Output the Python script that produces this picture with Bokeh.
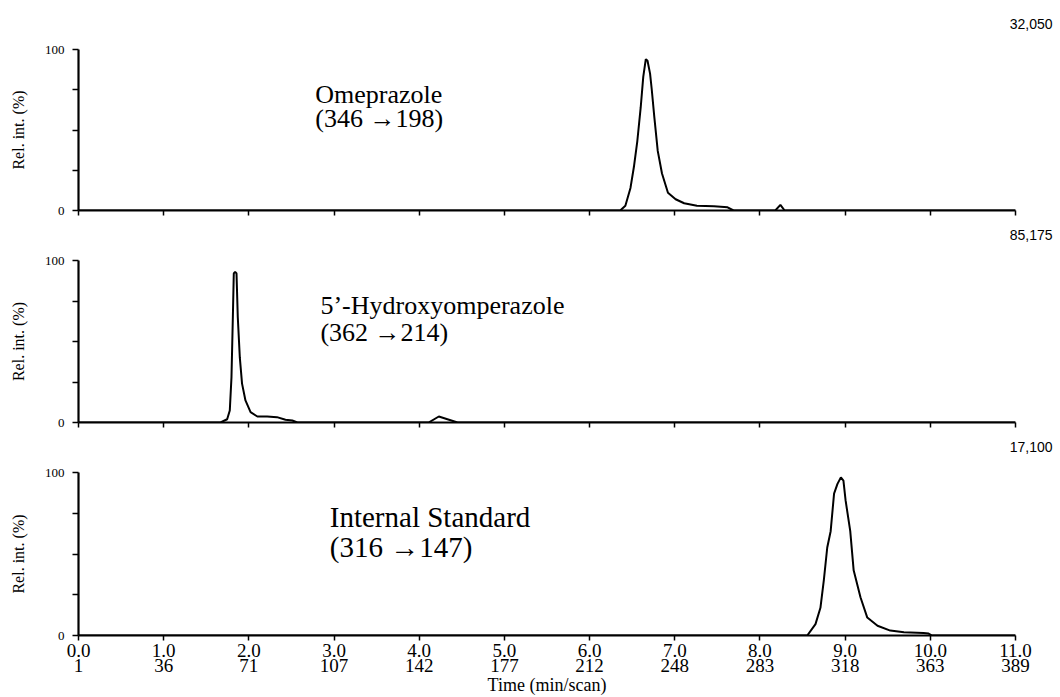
from bokeh.plotting import figure
from bokeh.layouts import column
from bokeh.models import Label, LinearAxis, FixedTicker, Range1d
from bokeh.embed import file_html
from bokeh.resources import INLINE

# ---- data (time in min, relative intensity in %) ----
omep_t = [0, 6.36, 6.42, 6.48, 6.52, 6.56, 6.60, 6.63, 6.66, 6.68, 6.71, 6.73, 6.76,
          6.80, 6.85, 6.92, 7.01, 7.11, 7.26, 7.46, 7.62, 7.69, 8.18, 8.24, 8.29, 11.0]
omep_i = [0, 0, 3, 14, 27, 43, 64, 83, 94, 93, 85, 75, 58,
          37, 23, 11, 7, 4.5, 3, 2.7, 2, 0, 0, 3.5, 0, 0]

hydro_t = [0, 1.667, 1.745, 1.776, 1.796, 1.812, 1.823, 1.839, 1.855, 1.87, 1.894, 1.92,
           1.96, 2.02, 2.10, 2.215, 2.33, 2.43, 2.51, 2.57, 4.11, 4.23, 4.45, 11.0]
hydro_i = [0, 0, 2, 7.4, 28, 65, 92, 93, 92, 65, 40, 24,
           13.6, 6.4, 3.7, 3.7, 3.3, 1.7, 1.2, 0, 0, 3.7, 0, 0]

istd_t = [0, 8.555, 8.652, 8.71, 8.75, 8.79, 8.83, 8.87, 8.91, 8.95, 8.98, 9.005, 9.06,
          9.10, 9.18, 9.26, 9.38, 9.53, 9.69, 9.92, 9.98, 10.02, 11.0]
istd_i = [0, 0, 7, 17, 34, 54, 64, 87, 93, 97, 95, 83, 64,
          40, 23.5, 11, 6, 3, 2, 1.5, 1.2, 0, 0]

scales = ["32,050", "85,175", "17,100"]
names = [("Omeprazole", "(346 \u2192198)"),
         ("5\u2019-Hydroxyomperazole", "(362 \u2192214)"),
         ("Internal Standard", "(316 \u2192147)")]

time_ticks = [0, 1, 2, 3, 4, 5, 6, 7, 8, 9, 10, 11]
time_labels = ["0.0", "1.0", "2.0", "3.0", "4.0", "5.0", "6.0", "7.0", "8.0", "9.0", "10.0", "11.0"]
scan_labels = ["1", "36", "71", "107", "142", "177", "212", "248", "283", "318", "363", "389"]
y_major = [0, 100]
y_major_labels = ["0", "100"]
y_minor = [25, 50, 75]

SERIF = "Liberation Serif"
SANS = "Liberation Sans"


def make_panel(t, inten, height, btop, bbot, scale, lines, lx, ly1, ly2, fsize, bottom=False):
    p = figure(width=1060, height=height, output_backend="svg", toolbar_location=None,
               x_range=Range1d(0, 11), y_range=Range1d(0, 100),
               min_border_left=78, min_border_right=45,
               min_border_top=btop, min_border_bottom=bbot)
    p.outline_line_color = None
    p.xgrid.visible = False
    p.ygrid.visible = False
    p.background_fill_color = "white"
    p.border_fill_color = "white"

    # intensity scale shown at the upper right of each trace
    p.title.text = scale + "\n"
    p.title.align = "right"
    p.title.offset = -37
    p.title.standoff = 4
    p.title.text_font = SANS
    p.title.text_font_size = "14px"
    p.title.text_font_style = "normal"
    p.title.text_color = "black"

    p.line(t, inten, line_color="black", line_width=2)

    # y axis
    ya = p.yaxis[0]
    ya.ticker = FixedTicker(ticks=y_major, minor_ticks=y_minor)
    ya.major_label_overrides = {v: s for v, s in zip(y_major, y_major_labels)}
    ya.major_tick_in = 0
    ya.major_tick_out = 6
    ya.minor_tick_in = 0
    ya.minor_tick_out = 6
    ya.major_tick_line_width = 1.5
    ya.minor_tick_line_width = 1.5
    ya.axis_line_width = 2.2
    ya.major_label_standoff = 8
    ya.major_label_text_font = SERIF
    ya.major_label_text_font_size = "13px"
    ya.major_label_text_color = "black"
    ya.axis_label = "Rel. int. (%)"
    ya.axis_label_text_font = SERIF
    ya.axis_label_text_font_size = "16px"
    ya.axis_label_text_font_style = "normal"
    ya.axis_label_text_color = "black"
    ya.axis_label_standoff = 15

    # x axis
    xa = p.xaxis[0]
    xa.axis_line_width = 2.2
    if bottom:
        xa.ticker = FixedTicker(ticks=time_ticks)
        xa.minor_tick_line_color = None
        xa.major_tick_in = 0
        xa.major_tick_out = 5
        xa.major_tick_line_width = 1.5
        xa.major_label_overrides = {v: s for v, s in zip(time_ticks, time_labels)}
        xa.major_label_standoff = 3
        xa.major_label_text_font = SERIF
        xa.major_label_text_font_size = "19px"
        xa.major_label_text_color = "black"
        xa2 = LinearAxis(ticker=FixedTicker(ticks=time_ticks))
        xa2.major_label_overrides = {v: s for v, s in zip(time_ticks, scan_labels)}
        xa2.axis_line_color = None
        xa2.major_tick_line_color = None
        xa2.minor_tick_line_color = None
        xa2.major_tick_in = 0
        xa2.major_tick_out = 0
        xa2.major_label_standoff = -1
        xa2.major_label_text_font = SERIF
        xa2.major_label_text_font_size = "19px"
        xa2.major_label_text_color = "black"
        xa2.axis_label = "Time (min/scan)"
        xa2.axis_label_text_font = SERIF
        xa2.axis_label_text_font_size = "18px"
        xa2.axis_label_text_font_style = "normal"
        xa2.axis_label_text_color = "black"
        xa2.axis_label_standoff = 0
        p.add_layout(xa2, "below")
    else:
        xa.ticker = FixedTicker(ticks=[], minor_ticks=time_ticks)
        xa.minor_tick_in = 0
        xa.minor_tick_out = 5
        xa.minor_tick_line_width = 1.5
        xa.major_label_standoff = 0

    p.add_layout(Label(x=lx, y=ly1, text=lines[0], text_font=SERIF, text_font_size=fsize,
                       text_baseline="alphabetic", text_color="black"))
    p.add_layout(Label(x=lx, y=ly2, text=lines[1], text_font=SERIF, text_font_size=fsize,
                       text_baseline="alphabetic", text_color="black"))
    return p


p1 = make_panel(omep_t, omep_i, 216, 49, 6, scales[0], names[0], 2.78, 72.0, 57.0, "26px")
p2 = make_panel(hydro_t, hydro_i, 212, 44, 6, scales[1], names[1], 2.84, 72.0, 55.5, "26px")
p3 = make_panel(istd_t, istd_i, 269, 44, 62, scales[2], names[2], 2.95, 72.5, 54.0, "29px", bottom=True)

layout = column(p1, p2, p3, spacing=0)
open("out.html", "w").write(file_html(layout, INLINE))
